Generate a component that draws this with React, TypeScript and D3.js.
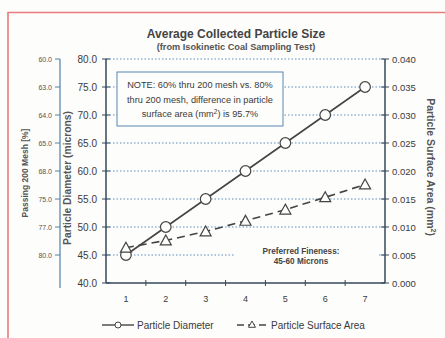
import React from "react";
import * as d3 from "d3";

const categories = [1, 2, 3, 4, 5, 6, 7];
const particleDiameter = [45, 50, 55, 60, 65, 70, 75];
const surfaceArea = [0.0063, 0.0076, 0.0092, 0.0111, 0.0131, 0.0153, 0.0176];
const leftTicks = [40, 45, 50, 55, 60, 65, 70, 75, 80];
const rightTicks = [0, 0.005, 0.01, 0.015, 0.02, 0.025, 0.03, 0.035, 0.04];
const passingValues = [80, 75, 70, 65, 60, 55, 50, 45];
const passingLabels = ["60.0", "63.0", "64.0", "65.0", "68.0", "75.0", "77.0", "80.0"];
const noteLines = [
  "NOTE: 60% thru 200 mesh vs. 80%",
  "thru 200 mesh, difference in particle",
];

const W = 445, H = 338;
const L = 106, R = 385, T = 59, B = 283;
const AX = "#34485a";
const GRID = "#5b8fbf";
const TXT = "#3a3a3a";
const BG = "#fdfdfb";
const FONT = "'Liberation Sans', Arial, sans-serif";

export default function App() {
  const x = d3.scaleBand<number>().domain(categories).range([L, R]);
  const cx = (d: number) => (x(d) as number) + x.bandwidth() / 2;
  const yL = d3.scaleLinear().domain([40, 80]).range([B, T]);
  const yR = d3.scaleLinear().domain([0, 0.04]).range([B, T]);

  const diaLine = d3.line<number>().x((_, i) => cx(categories[i])).y((d) => yL(d))(particleDiameter) as string;
  const areaLine = d3.line<number>().x((_, i) => cx(categories[i])).y((d) => yR(d))(surfaceArea) as string;
  const tri = (px: number, py: number, s = 5.5) =>
    `M${px},${py - s}L${px + s},${py + s * 0.8}L${px - s},${py + s * 0.8}Z`;

  const bounds = categories.slice(1).map((c) => x(c) as number);

  return (
    <svg width={W} height={H} style={{ position: "absolute", left: 0, top: 0, background: BG }} fontFamily={FONT}>
      {/* scan frame */}
      <path d={`M8,${H}V12.5H${W}`} fill="none" stroke="#e77c7c" strokeWidth={1.6} />

      {/* title */}
      <text x={236} y={38} textAnchor="middle" fontSize={12} fontWeight="bold" fill="#444">Average Collected Particle Size</text>
      <text x={236} y={50} textAnchor="middle" fontSize={9.2} fontWeight="bold" fill="#555">(from Isokinetic Coal Sampling Test)</text>

      {/* gridlines */}
      {leftTicks.slice(1).map((t) => (
        <line key={"g" + t} x1={L} x2={R} y1={yL(t)} y2={yL(t)} stroke={GRID} strokeWidth={1} strokeDasharray="1.5,2" />
      ))}

      {/* x axis */}
      <line x1={L} x2={R} y1={B} y2={B} stroke={AX} strokeWidth={1.5} />
      {bounds.map((b, i) => (
        <line key={"xb" + i} x1={b} x2={b} y1={B - 3} y2={B + 3} stroke={AX} strokeWidth={1} />
      ))}
      {categories.map((c) => (
        <text key={"xl" + c} x={cx(c)} y={302} textAnchor="middle" fontSize={9} fill={TXT}>{c}</text>
      ))}

      {/* left axis */}
      <line x1={L} x2={L} y1={T} y2={B} stroke={AX} strokeWidth={1.5} />
      {leftTicks.map((t) => (
        <g key={"lt" + t}>
          <line x1={L - 4} x2={L + 4} y1={yL(t)} y2={yL(t)} stroke={AX} strokeWidth={1} />
          <text x={97} y={yL(t) + 3.5} textAnchor="end" fontSize={10} fill={TXT}>{t.toFixed(1)}</text>
        </g>
      ))}

      {/* right axis */}
      <line x1={R} x2={R} y1={T} y2={B} stroke={AX} strokeWidth={1.5} />
      {rightTicks.map((t) => (
        <g key={"rt" + t}>
          <line x1={R - 4} x2={R + 4} y1={yR(t)} y2={yR(t)} stroke={AX} strokeWidth={1} />
          <text x={392} y={yR(t) + 3.5} textAnchor="start" fontSize={9.5} fill={TXT}>{t.toFixed(3)}</text>
        </g>
      ))}

      {/* outer passing axis */}
      <line x1={60} x2={60} y1={T} y2={288} stroke="#4d80ad" strokeWidth={1.2} />
      {passingValues.map((v, i) => (
        <g key={"pt" + v}>
          <line x1={55} x2={60} y1={yL(v)} y2={yL(v)} stroke="#4d80ad" strokeWidth={1} />
          <text x={52} y={yL(v) + 2.5} textAnchor="end" fontSize={7} fill="#555">{passingLabels[i]}</text>
        </g>
      ))}

      {/* axis titles */}
      <text transform="translate(28,173) rotate(-90)" textAnchor="middle" fontSize={8.5} fontWeight="bold" fill="#555">Passing 200 Mesh [%]</text>
      <text transform="translate(71,178) rotate(-90)" textAnchor="middle" fontSize={10.3} fontWeight="bold" fill="#555">Particle Diameter (microns)</text>
      <text transform="translate(427,167) rotate(90)" textAnchor="middle" fontSize={10.5} fontWeight="bold" fill="#555">
        Particle Surface Area (mm<tspan fontSize={7} dy={-3.5}>2</tspan><tspan dy={3.5}>)</tspan>
      </text>

      {/* note box */}
      <rect x={117} y={72} width={166} height={54} fill={BG} stroke="#5b86b3" strokeWidth={1} />
      {noteLines.map((s, i) => (
        <text key={"n" + i} x={200} y={88 + i * 14.5} textAnchor="middle" fontSize={9.2} fill={TXT}>{s}</text>
      ))}
      <text x={200} y={117} textAnchor="middle" fontSize={9.2} fill={TXT}>
        surface area (mm<tspan fontSize={6.5} dy={-3.5}>2</tspan><tspan dy={3.5}>) is 95.7%</tspan>
      </text>

      {/* preferred fineness */}
      <rect x={234} y={242} width={143} height={25} fill={BG} />
      <text x={301} y={254} textAnchor="middle" fontSize={8.2} fontWeight="bold" fill="#444">Preferred Fineness:</text>
      <text x={301} y={264} textAnchor="middle" fontSize={8.2} fontWeight="bold" fill="#444">45-60 Microns</text>

      {/* series */}
      <path d={areaLine} fill="none" stroke="#444" strokeWidth={1.6} strokeDasharray="8,5" />
      <path d={diaLine} fill="none" stroke="#444" strokeWidth={1.6} />
      {particleDiameter.map((d, i) => (
        <circle key={"c" + i} cx={cx(categories[i])} cy={yL(d)} r={5.3} fill={BG} stroke="#444" strokeWidth={1.2} />
      ))}
      {surfaceArea.map((d, i) => (
        <path key={"t" + i} d={tri(cx(categories[i]), yR(d))} fill={BG} stroke="#444" strokeWidth={1.2} />
      ))}

      {/* legend */}
      <line x1={102} x2={134} y1={325} y2={325} stroke="#444" strokeWidth={1.4} />
      <circle cx={118} cy={325} r={3} fill={BG} stroke="#444" strokeWidth={1} />
      <text x={137} y={328.5} fontSize={10} fill={TXT}>Particle Diameter</text>
      <line x1={237} x2={267} y1={325} y2={325} stroke="#444" strokeWidth={1.4} strokeDasharray="7,4" />
      <path d={tri(252, 324.5, 3.5)} fill={BG} stroke="#444" strokeWidth={1} />
      <text x={271} y={328.5} fontSize={10} fill={TXT}>Particle Surface Area</text>
    </svg>
  );
}
